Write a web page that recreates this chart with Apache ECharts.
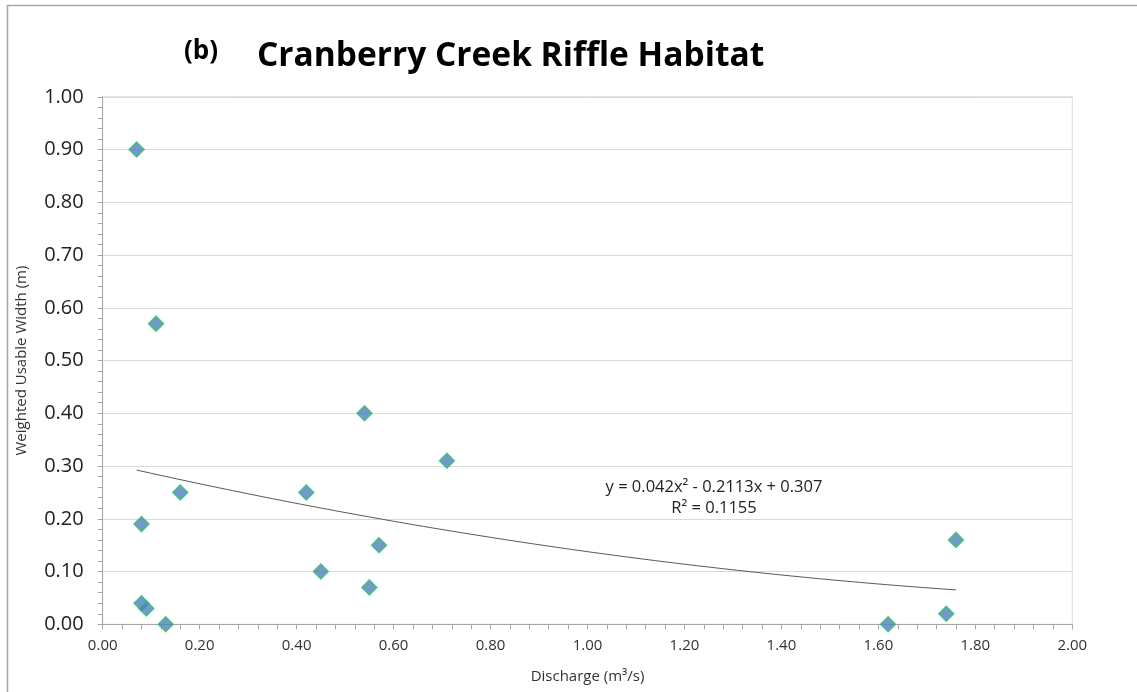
<!DOCTYPE html>
<html>
<head>
<meta charset="utf-8">
<script src="https://cdn.jsdelivr.net/npm/echarts@6/dist/echarts.min.js"></script>
<style>
html,body{margin:0;padding:0;background:#fff;}
#c{width:1137px;height:692px;}
</style>
</head>
<body>
<div id="c"></div>
<script>
const discharge = [0.07, 0.11, 0.54, 0.71, 0.16, 0.42, 0.08, 0.57, 0.45, 0.55, 0.08, 0.09, 0.13, 1.62, 1.74, 1.76];
const wuw =       [0.90, 0.57, 0.40, 0.31, 0.25, 0.25, 0.19, 0.15, 0.10, 0.07, 0.04, 0.03, 0.00, 0.00, 0.02, 0.16];
const trendCoef = [0.042, -0.2113, 0.307]; // a, b, c of y = ax^2 + bx + c
const trendRange = [0.07, 1.76];
const trendText = ['y = 0.042x² - 0.2113x + 0.307', 'R² = 0.1155'];

const points = discharge.map((x, i) => [x, wuw[i]]);
const trend = [];
for (let k = 0; k <= 60; k++) {
  const x = trendRange[0] + (trendRange[1] - trendRange[0]) * k / 60;
  trend.push([x, trendCoef[0] * x * x + trendCoef[1] * x + trendCoef[2]]);
}

const font = '"Open Sans", "Noto Sans", sans-serif';
const chart = echarts.init(document.getElementById('c'));
chart.setOption({
  animation: false,
  backgroundColor: '#fff',
  grid: {left: 102.7, right: 64.7, top: 96.8, bottom: 67.7, show: true, borderColor: '#d9d9d9', borderWidth: 1},
  graphic: [
    {type: 'rect', shape: {x: 7.5, y: 5.5, width: 1140, height: 700}, style: {fill: 'none', stroke: '#a6a6a6', lineWidth: 1.5}, silent: true},
    {type: 'text', style: {x: 184, y: 52, text: '(b)', font: 'bold 26px ' + font, fill: '#000', textAlign: 'left', textVerticalAlign: 'middle'}},
    {type: 'text', style: {x: 257, y: 56, text: 'Cranberry Creek Riffle Habitat', font: 'bold 33.5px ' + font, fill: '#000', textAlign: 'left', textVerticalAlign: 'middle'}},
    {type: 'text', style: {x: 714, y: 487, text: trendText[0], font: '16.5px ' + font, fill: '#222', textAlign: 'center', textVerticalAlign: 'middle'}},
    {type: 'text', style: {x: 714, y: 508, text: trendText[1], font: '16.5px ' + font, fill: '#222', textAlign: 'center', textVerticalAlign: 'middle'}}
  ],
  xAxis: {
    type: 'value', min: 0, max: 2, interval: 0.2,
    name: 'Discharge (m³/s)', nameLocation: 'middle', nameGap: 45,
    nameTextStyle: {fontFamily: font, fontSize: 15, color: '#333'},
    axisLine: {show: true, lineStyle: {color: '#a6a6a6'}},
    axisTick: {show: true, length: 5, lineStyle: {color: '#a6a6a6'}},
    minorTick: {show: true, splitNumber: 5, length: 5, lineStyle: {color: '#a6a6a6'}},
    splitLine: {show: false},
    axisLabel: {formatter: v => v.toFixed(2), fontFamily: font, fontSize: 15, color: '#333', margin: 14}
  },
  yAxis: {
    type: 'value', min: 0, max: 1, interval: 0.1,
    name: 'Weighted Usable Width (m)', nameLocation: 'middle', nameGap: 73,
    nameTextStyle: {fontFamily: font, fontSize: 15, color: '#333'},
    axisLine: {show: true, lineStyle: {color: '#a6a6a6'}},
    axisTick: {show: true, length: 5, lineStyle: {color: '#a6a6a6'}},
    minorTick: {show: true, splitNumber: 5, length: 5, lineStyle: {color: '#a6a6a6'}},
    splitLine: {show: true, lineStyle: {color: '#d9d9d9'}},
    axisLabel: {formatter: v => v.toFixed(2), fontFamily: font, fontSize: 20, color: '#222', margin: 19}
  },
  series: [
    {type: 'line', data: trend, showSymbol: false, smooth: false, lineStyle: {color: '#595959', width: 1}, z: 2},
    {type: 'scatter', data: points, symbol: 'diamond', symbolSize: [15, 15],
     itemStyle: {color: '#4f7fbd', borderColor: '#33c070', borderWidth: 1.5}, z: 3}
  ]
});
</script>
</body>
</html>
